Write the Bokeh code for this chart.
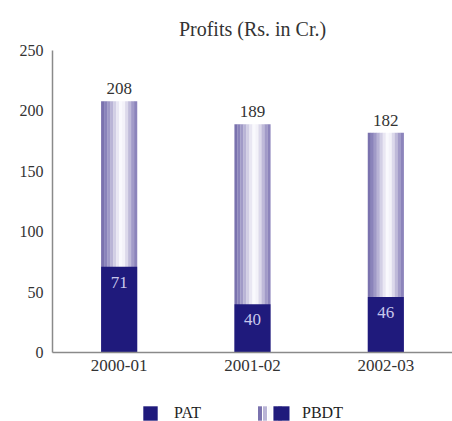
from bokeh.plotting import figure
from bokeh.layouts import column
from bokeh.models import (ColumnDataSource, FactorRange, Range1d, LabelSet,
                          FixedTicker, Legend, LegendItem)
from bokeh.transform import dodge
from bokeh.embed import file_html
from bokeh.resources import INLINE

categories = ["2000-01", "2001-02", "2002-03"]
pbdt = [208, 189, 182]
pat = [71, 40, 46]
y_ticks = [0, 50, 100, 150, 200, 250]
series_names = ["PAT", "PBDT"]

SERIF = "Liberation Serif"
DARK = "#1f1a7c"
strip_colors = ["#7a72ae", "#8a83ba", "#a09ac7", "#b9b4d6", "#d2cfe5", "#e9e7f3",
                "#f9f9fd", "#f3f2f9", "#dcd9eb", "#bfbad9", "#a29bc8", "#8c84bb"]
BAR_W = 0.27

src = ColumnDataSource(dict(cat=categories, pbdt=pbdt, pat=pat,
                            pbdt_txt=[str(v) for v in pbdt],
                            pat_txt=[str(v) for v in pat]))

p = figure(x_range=FactorRange(*categories), y_range=Range1d(0, 250),
           width=452, height=385, output_backend="svg", toolbar_location=None,
           min_border_left=52, min_border_right=0, min_border_top=50,
           min_border_bottom=33)
p.outline_line_color = None
p.xgrid.visible = False
p.ygrid.visible = False

# PBDT gradient bar built from thin vertical strips
n = len(strip_colors)
sw = BAR_W / n
for i, c in enumerate(strip_colors):
    off = -BAR_W / 2 + sw * (i + 0.5)
    p.vbar(x=dodge("cat", off, range=p.x_range), top="pbdt", bottom=0,
           width=sw * 1.05, source=src, fill_color=c, line_color=None)

p.vbar(x="cat", top="pat", bottom=0, width=BAR_W, source=src,
       fill_color=DARK, line_color=None)

p.add_layout(LabelSet(x="cat", y="pbdt", text="pbdt_txt", source=src,
                      text_align="center", text_baseline="bottom", y_offset=7,
                      text_font=SERIF, text_font_size="17px", text_color="#333333"))
p.add_layout(LabelSet(x="cat", y="pat", text="pat_txt", source=src,
                      text_align="center", text_baseline="top", y_offset=-10,
                      text_font=SERIF, text_font_size="17px", text_color="#c8c8ec"))

for ax in (p.xaxis[0], p.yaxis[0]):
    ax.axis_line_color = "#8a8a8a"
    ax.axis_line_width = 1.5
    ax.major_tick_line_color = None
    ax.minor_tick_line_color = None
    ax.major_label_text_font = SERIF
    ax.major_label_text_color = "#333333"
p.yaxis[0].ticker = FixedTicker(ticks=y_ticks)
p.yaxis[0].major_label_text_font_size = "16px"
p.yaxis[0].major_label_standoff = 3
p.xaxis[0].major_label_text_font_size = "17px"
p.xaxis[0].major_label_standoff = 1

p.title.text = "Profits (Rs. in Cr.)"
p.title.align = "center"
p.title.text_font = SERIF
p.title.text_font_size = "20px"
p.title.text_font_style = "normal"
p.title.text_color = "#333333"
p.title.standoff = 22

# legend strip below the chart (zero-height proxy bars carry the legend glyphs)
lf = figure(width=452, height=36, output_backend="svg", toolbar_location=None,
            x_range=FactorRange(*categories), y_range=Range1d(0, 250),
            x_axis_location=None, y_axis_location=None,
            min_border_left=0, min_border_right=0, min_border_top=0, min_border_bottom=0)
lf.outline_line_color = None
lf.xgrid.visible = False
lf.ygrid.visible = False
dark_r = lf.vbar(x="cat", top="pat", bottom="pat", width=BAR_W, source=src,
                 fill_color=DARK, line_color=None)
grad_rs = [lf.vbar(x="cat", top="pat", bottom="pat", width=BAR_W, source=src,
                   fill_color=strip_colors[k], line_color=None)
           for k in (0, 3, 6, 8, 10)]

common = dict(orientation="horizontal", label_text_font=SERIF,
              label_text_font_size="16px", label_text_color="#222222",
              glyph_height=18, border_line_color=None, background_fill_alpha=0,
              margin=0, padding=0)
leg_pat = Legend(items=[LegendItem(label=series_names[0], renderers=[dark_r])],
                 location=(89, -1), glyph_width=18, label_standoff=15, **common)
leg_grad = Legend(items=[LegendItem(label="", renderers=[r]) for r in grad_rs],
                  location=(205, -1), glyph_width=5, label_standoff=0, label_width=0,
                  spacing=-2, **common)
leg_pbdt = Legend(items=[LegendItem(label=series_names[1], renderers=[dark_r])],
                  location=(219, -1), glyph_width=20, label_standoff=11, **common)
for lg in (leg_pat, leg_grad, leg_pbdt):
    lf.add_layout(lg)

layout = column(p, lf, spacing=0)
open("out.html", "w").write(file_html(layout, INLINE))
